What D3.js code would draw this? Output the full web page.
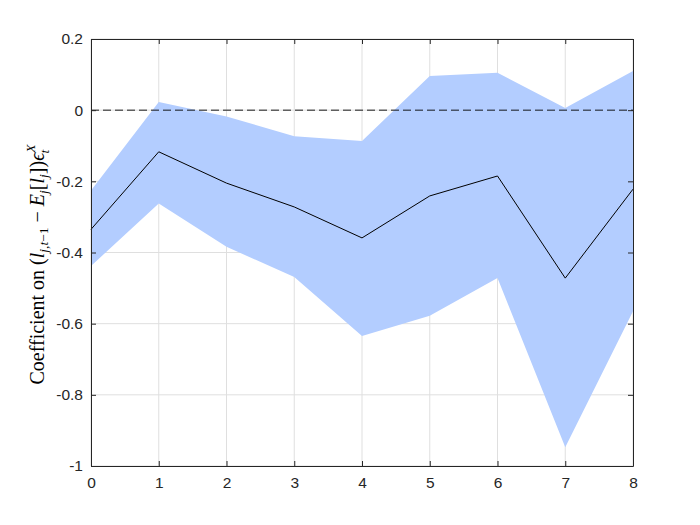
<!DOCTYPE html>
<html><head><meta charset="utf-8">
<script src="https://cdn.jsdelivr.net/npm/d3@7"></script>
<style>body{margin:0;background:#fff}svg{display:block}</style>
</head><body>
<script>
const horizons = [0,1,2,3,4,5,6,7,8];
const coef  = [-0.335,-0.117,-0.205,-0.272,-0.359,-0.241,-0.185,-0.472,-0.222];
const upper = [-0.226, 0.023,-0.018,-0.073,-0.087, 0.096, 0.105, 0.006, 0.110];
const lower = [-0.438,-0.262,-0.384,-0.469,-0.635,-0.578,-0.472,-0.947,-0.565];
const xTicks = [0,1,2,3,4,5,6,7,8];
const yTicks = [-1,-0.8,-0.6,-0.4,-0.2,0,0.2];
const yTickLabels = ["-1","-0.8","-0.6","-0.4","-0.2","0","0.2"];

const W=700,H=525;
const L=91,R=633,T=39,B=466;
const svg=d3.select("body").append("svg").attr("width",W).attr("height",H);
const x=d3.scaleLinear().domain([0,8]).range([L,R]);
const y=d3.scaleLinear().domain([-1,0.2]).range([B,T]);
const axisCol="#262626";

// grid
const g=svg.append("g");
g.selectAll(".gx").data(xTicks).enter().append("line")
 .attr("x1",d=>x(d)).attr("x2",d=>x(d)).attr("y1",T).attr("y2",B)
 .attr("stroke","#dfdfdf").attr("stroke-width",1);
g.selectAll(".gy").data(yTicks).enter().append("line")
 .attr("y1",d=>y(d)).attr("y2",d=>y(d)).attr("x1",L).attr("x2",R)
 .attr("stroke","#dfdfdf").attr("stroke-width",1);

// band
const area=d3.area().x((d,i)=>x(horizons[i])).y0((d,i)=>y(lower[i])).y1((d,i)=>y(upper[i]));
svg.append("path").datum(horizons).attr("d",area).attr("fill","#b3cdff");

// zero dashed line
svg.append("line").attr("x1",L).attr("x2",R).attr("y1",y(0)).attr("y2",y(0))
 .attr("stroke","#000").attr("stroke-width",0.9).attr("stroke-dasharray","8,4");

// coefficient line
const line=d3.line().x((d,i)=>x(horizons[i])).y((d,i)=>y(coef[i]));
svg.append("path").datum(horizons).attr("d",line).attr("fill","none")
 .attr("stroke","#000").attr("stroke-width",1);

// axes (ticks inward) on all sides
const tl=5;
const fnt="'Liberation Sans', Arial, sans-serif";
svg.append("g").attr("transform",`translate(0,${B})`)
 .call(d3.axisBottom(x).tickValues(xTicks).tickSizeInner(-tl).tickSizeOuter(0).tickPadding(11).tickFormat(d3.format("d")))
 .call(s=>{s.select(".domain").attr("stroke",axisCol);s.selectAll("line").attr("stroke",axisCol);
   s.selectAll("text").attr("fill",axisCol).style("font-family",fnt).style("font-size","15.5px");});
svg.append("g").attr("transform",`translate(${L},0)`)
 .call(d3.axisLeft(y).tickValues(yTicks).tickSizeInner(-tl).tickSizeOuter(0).tickPadding(8).tickFormat((d,i)=>yTickLabels[i]))
 .call(s=>{s.select(".domain").attr("stroke",axisCol);s.selectAll("line").attr("stroke",axisCol);
   s.selectAll("text").attr("fill",axisCol).style("font-family",fnt).style("font-size","15.5px");});
svg.append("g").attr("transform",`translate(0,${T})`)
 .call(d3.axisTop(x).tickValues(xTicks).tickSizeInner(-tl).tickSizeOuter(0).tickFormat(""))
 .call(s=>{s.select(".domain").attr("stroke",axisCol);s.selectAll("line").attr("stroke",axisCol);});
svg.append("g").attr("transform",`translate(${R},0)`)
 .call(d3.axisRight(y).tickValues(yTicks).tickSizeInner(-tl).tickSizeOuter(0).tickFormat(""))
 .call(s=>{s.select(".domain").attr("stroke",axisCol);s.selectAll("line").attr("stroke",axisCol);});

// y label
const lab=svg.append("text").attr("transform",`translate(44,${(T+B)/2+12}) rotate(-90)`)
 .attr("text-anchor","middle").attr("fill","#000")
 .style("font-family","'Liberation Serif','DejaVu Serif',serif").style("font-size","20px");
lab.append("tspan").text("Coefficient on (");
lab.append("tspan").style("font-style","italic").text("l");
lab.append("tspan").attr("dy",4).style("font-size","13.5px").style("font-style","italic").text("j,t");
lab.append("tspan").style("font-size","13.5px").text("−1");
lab.append("tspan").attr("dy",-4).text(" − ");
lab.append("tspan").style("font-style","italic").text("E");
lab.append("tspan").attr("dy",4).style("font-size","13.5px").style("font-style","italic").text("j");
lab.append("tspan").attr("dy",-4).text("[");
lab.append("tspan").style("font-style","italic").text("l");
lab.append("tspan").attr("dy",4).style("font-size","13.5px").style("font-style","italic").text("j");
lab.append("tspan").attr("dy",-4).text("])");
lab.append("tspan").style("font-style","italic").text("ϵ");
lab.append("tspan").attr("dy",-9).style("font-size","13.5px").style("font-style","italic").text("X");
lab.append("tspan").attr("dy",14).attr("dx",-9).style("font-size","13.5px").style("font-style","italic").text("t");
</script>
</body></html>
